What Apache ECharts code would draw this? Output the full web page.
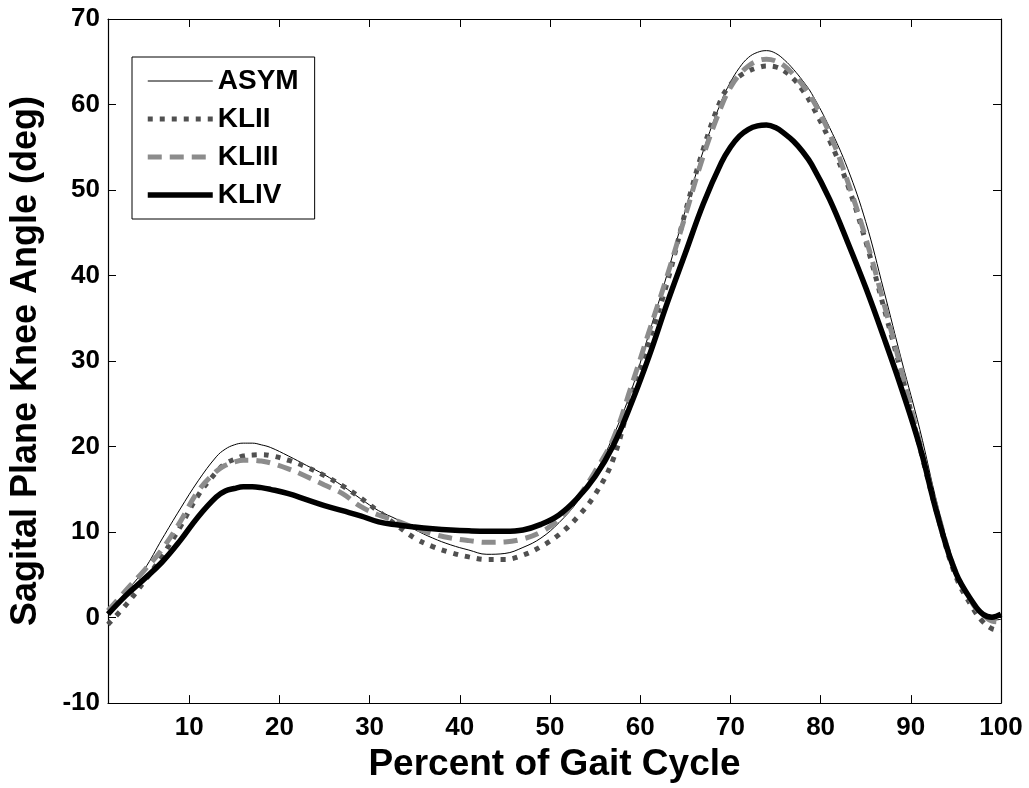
<!DOCTYPE html>
<html>
<head>
<meta charset="utf-8">
<script src="https://cdn.jsdelivr.net/npm/echarts@6/dist/echarts.min.js"></script>
<style>
  html, body { margin: 0; padding: 0; background: #fff; }
  #chart { width: 1029px; height: 788px; }
</style>
</head>
<body>
<div id="chart"></div>
<script>
// Percent of gait cycle sample points (denser around the peaks)
const pct = [1, 3, 5, 7, 9, 11, 13,
  14, 15, 16, 17, 18, 19,
  21, 23, 25, 27, 29, 31, 33, 35, 37, 39, 41, 43, 45, 47, 49, 51, 53, 55, 57, 59, 61, 63, 65, 67,
  69, 70, 71, 72, 73, 74, 75, 76, 77, 78, 79,
  81, 83, 85, 87, 89, 91, 93, 95, 97,
  98, 99, 100];

// Sagittal plane knee angle (deg) per group
const asym = [0.5, 3.0, 5.6, 9.2, 12.7, 16.0, 18.8,
  19.7, 20.2, 20.4, 20.4, 20.2, 19.9,
  18.9, 17.8, 16.7, 15.4, 13.9, 12.5, 11.5, 10.3, 9.3, 8.5, 7.9, 7.4, 7.5, 8.2, 9.3, 11.1, 13.5, 16.8, 21.2, 26.5, 33.3, 40.2, 47.6, 54.6,
  60.4, 62.6, 64.3, 65.5, 66.1, 66.3, 66.0, 65.2, 64.1, 62.8, 61.3,
  57.3, 52.5, 46.3, 38.3, 30.0, 22.0, 13.0, 5.7, 1.3,
  0.2, -0.3, -0.2];
const klii = [-0.8, 1.5, 4.2, 7.2, 10.6, 14.3, 17.0,
  18.0, 18.5, 18.9, 19.0, 19.05, 18.95,
  18.4, 17.6, 16.6, 15.4, 14.0, 12.4, 10.8, 9.3, 8.3, 7.6, 7.1, 6.8, 6.8, 7.3, 8.3, 9.7, 11.7, 14.4, 18.5, 25.8, 32.4, 39.2, 47.4, 54.8,
  60.7, 62.3, 63.3, 63.9, 64.3, 64.5, 64.4, 63.9, 63.0, 61.7, 60.0,
  55.8, 50.6, 44.0, 36.3, 28.4, 19.9, 11.8, 4.8, 0.9,
  -0.5, -1.3, -1.5];
const kliii = [0.8, 3.2, 5.5, 8.0, 11.2, 14.8, 17.1,
  17.8, 18.2, 18.4, 18.4, 18.3, 18.1,
  17.4, 16.5, 15.5, 14.5, 13.0, 12.0, 11.3, 10.5, 9.8, 9.3, 9.0, 8.8, 8.85, 9.2, 10.0, 11.5, 13.9, 17.1, 20.9, 27.0, 33.5, 40.0, 47.0, 54.0,
  59.8, 62.0, 63.5, 64.5, 65.1, 65.3, 65.1, 64.5, 63.5, 62.3, 60.8,
  56.6, 51.0, 44.4, 36.8, 28.8, 20.4, 12.2, 5.3, 1.4,
  0.3, -0.4, -0.5];
const kliv = [0.4, 2.6, 4.5, 6.5, 9.0, 11.8, 14.1,
  14.8, 15.1, 15.3, 15.3, 15.2, 15.0,
  14.5, 13.8, 13.1, 12.5, 11.9, 11.2, 10.85, 10.6, 10.4, 10.25, 10.15, 10.1, 10.1, 10.25, 10.9, 12.0, 13.9, 16.5, 20.1, 25.0, 30.6, 36.8, 42.6, 48.4,
  53.2, 55.0, 56.3, 57.1, 57.5, 57.6, 57.3, 56.6, 55.7, 54.5, 53.0,
  48.9, 43.9, 38.6, 32.8, 26.7, 20.0, 11.8, 5.2, 1.6,
  0.4, 0.05, 0.4];

const xTicks = [10, 20, 30, 40, 50, 60, 70, 80, 90, 100];

const FONT = '"Liberation Sans", Arial, sans-serif';
const pairs = ys => pct.map((x, i) => [x, ys[i]]);

const tickStyle = { show: true, inside: true, length: 8, lineStyle: { color: '#000', width: 1 } };
const lineAxis = { show: true, onZero: false, lineStyle: { color: '#000', width: 1.2 } };

const chart = echarts.init(document.getElementById('chart'), null, { renderer: 'canvas' });

chart.setOption({
  backgroundColor: '#fff',
  animation: false,
  grid: { left: 108, right: 28, top: 19, bottom: 78, containLabel: false },
  legend: {
    left: 132, top: 57, orient: 'vertical',
    padding: [10, 16, 10, 13],
    itemWidth: 65, itemHeight: 14, itemGap: 10,
    backgroundColor: '#fff', borderColor: '#000', borderWidth: 1, borderRadius: 0,
    itemStyle: { opacity: 0 },
    lineStyle: { width: 'inherit', type: 'inherit' },
    textStyle: { fontFamily: FONT, fontWeight: 'bold', fontSize: 28, color: '#000' },
    data: ['ASYM', 'KLII', 'KLIII', 'KLIV']
  },
  xAxis: [
    {
      type: 'value', min: 1, max: 100, position: 'bottom',
      name: 'Percent of Gait Cycle', nameLocation: 'middle', nameGap: 32,
      nameTextStyle: { fontFamily: FONT, fontWeight: 'bold', fontSize: 37, color: '#000' },
      axisLine: lineAxis,
      axisTick: Object.assign({ customValues: xTicks }, tickStyle),
      axisLabel: { customValues: xTicks, margin: 12, fontFamily: FONT, fontWeight: 'bold', fontSize: 26, color: '#000' },
      splitLine: { show: false }
    },
    {
      type: 'value', min: 1, max: 100, position: 'top',
      axisLine: lineAxis,
      axisTick: Object.assign({ customValues: xTicks }, tickStyle),
      axisLabel: { show: false },
      splitLine: { show: false }
    }
  ],
  yAxis: [
    {
      type: 'value', min: -10, max: 70, interval: 10, position: 'left',
      name: 'Sagital Plane Knee Angle (deg)', nameLocation: 'middle', nameGap: 64,
      nameTextStyle: { fontFamily: FONT, fontWeight: 'bold', fontSize: 36, color: '#000' },
      axisLine: lineAxis,
      axisTick: tickStyle,
      axisLabel: { margin: 8, fontFamily: FONT, fontWeight: 'bold', fontSize: 26, color: '#000' },
      splitLine: { show: false }
    },
    {
      type: 'value', min: -10, max: 70, interval: 10, position: 'right',
      axisLine: lineAxis,
      axisTick: tickStyle,
      axisLabel: { show: false },
      splitLine: { show: false }
    }
  ],
  series: [
    {
      name: 'ASYM', type: 'line', data: pairs(asym), smooth: 0.4, symbol: 'none',
      color: '#000', lineStyle: { color: '#000', width: 1 }, z: 2
    },
    {
      name: 'KLII', type: 'line', data: pairs(klii), smooth: 0.4, symbol: 'none',
      color: '#505050', lineStyle: { color: '#505050', width: 5, type: [5, 7], cap: 'butt' }, z: 3
    },
    {
      name: 'KLIII', type: 'line', data: pairs(kliii), smooth: 0.4, symbol: 'none',
      color: '#8c8c8c', lineStyle: { color: '#8c8c8c', width: 5, type: [14, 8], cap: 'butt' }, z: 4
    },
    {
      name: 'KLIV', type: 'line', data: pairs(kliv), smooth: 0.4, symbol: 'none',
      color: '#000', lineStyle: { color: '#000', width: 5.5 }, z: 5
    }
  ]
});
</script>
</body>
</html>
